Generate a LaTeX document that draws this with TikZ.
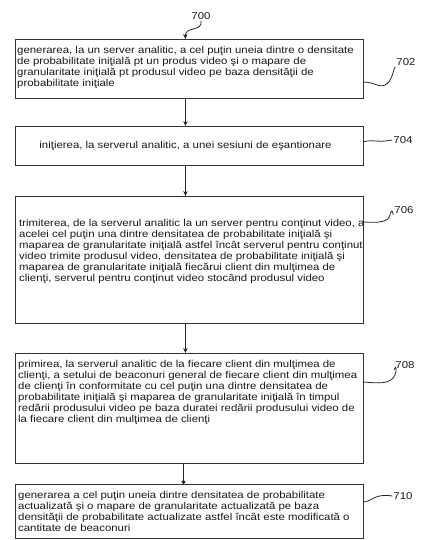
\documentclass[tikz,border=0pt]{standalone}
\usepackage{fontspec}
\setmainfont[FakeStretch=1.14]{Liberation Sans}
\usetikzlibrary{arrows.meta}
\begin{document}
\begin{tikzpicture}[x=1pt,y=-1pt,
  box/.style={draw=black!80, line width=0.9pt, inner sep=0pt, anchor=north west, minimum width=348pt},
  txt/.style={font=\fontsize{10}{11}\selectfont, align=left, inner sep=0pt, anchor=north west, text=black!90},
  lab/.style={font=\fontsize{10}{12}\selectfont, inner sep=1pt, text=black!90},
  arr/.style={draw=black!85, line width=0.8pt, -{Stealth[length=5pt,width=4.5pt]}},
  darr/.style={draw=black!85, line width=0.8pt, -{Circle[length=4pt]}},
  sq/.style={draw=black!85, line width=0.8pt}]
\useasboundingbox (0,0) rectangle (422,540);

\node[box, minimum height=59pt] (b702) at (15,39) {};
\node[box, minimum height=39pt] (b704) at (15,126) {};
\node[box, minimum height=127pt] (b706) at (15,196) {};
\node[box, minimum height=110pt] (b708) at (15,353) {};
\node[box, minimum height=54pt] (b710) at (15,484) {};

\node[txt] (t702) at (17,45.7) {generarea, la un server analitic, a cel puţin uneia dintre o densitate\\
de probabilitate iniţială pt un produs video şi o mapare de\\
granularitate iniţială pt produsul video pe baza densităţii de\\
probabilitate iniţiale};
\node[txt, anchor=base] (t704) at (185.5,148.5) {iniţierea, la serverul analitic, a unei sesiuni de eşantionare};
\node[txt] (t706) at (19,218.7) {trimiterea, de la serverul analitic la un server pentru conţinut video, a\\
acelei cel puţin una dintre densitatea de probabilitate iniţială şi\\
maparea de granularitate iniţială astfel încât serverul pentru conţinut\\
video trimite produsul video, densitatea de probabilitate iniţială şi\\
maparea de granularitate iniţială fiecărui client din mulţimea de\\
clienţi, serverul pentru conţinut video stocând produsul video};
\node[txt] (t708) at (18,359.7) {primirea, la serverul analitic de la fiecare client din mulţimea de\\
clienţi, a setului de beaconuri general de fiecare client din mulţimea\\
de clienţi în conformitate cu cel puţin una dintre densitatea de\\
probabilitate iniţială şi maparea de granularitate iniţială în timpul\\
redării produsului video pe baza duratei redării produsului video de\\
la fiecare client din mulţimea de clienţi};
\node[txt] (t710) at (18,490.7) {generarea a cel puţin uneia dintre densitatea de probabilitate\\
actualizată şi o mapare de granularitate actualizată pe baza\\
densităţii de probabilitate actualizate astfel încât este modificată o\\
cantitate de beaconuri};

\node[lab] (l700) at (201,16) {700};
\node[lab] (l702) at (406,62) {702};
\node[lab] (l704) at (403,140) {704};
\node[lab] (l706) at (404,210) {706};
\node[lab] (l708) at (405,365) {708};
\node[lab] (l710) at (403,496) {710};

\draw[arr] (l700.south) .. controls (203,32) and (185,26) .. ([xshift=-4pt]b702.north);
\draw[arr] ([xshift=-4pt]b702.south) -- ([xshift=-4pt]b704.north);
\draw[arr] ([xshift=-4pt]b704.south) -- ([xshift=-4pt]b706.north);
\draw[arr] ([xshift=-4pt]b706.south) -- ([xshift=-4pt]b708.north);
\draw[darr] ([xshift=-6pt]b708.south) -- ([xshift=-6pt]b710.north);

\coordinate (c702) at (363,82);
\coordinate (c704) at (363,142);
\coordinate (c706) at (363,222);
\coordinate (c708) at (363,382);
\coordinate (c710) at (363,502);
\draw[sq] (c702) .. controls (375,82) and (378,88) .. (385,85) .. controls (392,82) and (393,70) .. (l702.south west);
\draw[sq] (c704) .. controls (372,139) and (378,143) .. (l704.west);
\draw[sq] (c706) .. controls (380,223) and (388,222) .. (390,215) .. controls (391,211) and (392,209) .. (l706.south west);
\draw[sq] (c708) .. controls (378,383) and (390,385) .. (395,375) .. controls (397,370) and (396,364) .. (l708.south west);
\draw[sq] (c710) .. controls (372,502) and (374,493) .. (l710.west);
\end{tikzpicture}
\end{document}
